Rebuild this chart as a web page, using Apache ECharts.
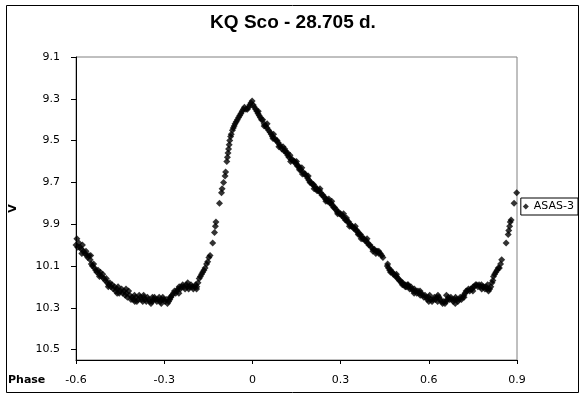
<!DOCTYPE html>
<html>
<head>
<meta charset="utf-8">
<script src="https://cdn.jsdelivr.net/npm/echarts@6/dist/echarts.min.js"></script>
<style>
html,body{margin:0;padding:0;background:#fff;}
#chart{width:586px;height:398px;}
</style>
</head>
<body>
<div id="chart"></div>
<script>
var titleText = "KQ Sco - 28.705 d.";
var seriesName = "ASAS-3";
var xTicks = [-0.6, -0.3, 0, 0.3, 0.6, 0.9];
var yTicks = [9.1, 9.3, 9.5, 9.7, 9.9, 10.1, 10.3, 10.5];

var phase = [
-0.602,-0.600,-0.597,-0.594,-0.590,-0.586,-0.582,-0.578,-0.574,-0.570,-0.566,-0.563,-0.560,-0.556,-0.552,-0.548,-0.544,-0.540,-0.537,-0.533,
-0.529,-0.525,-0.521,-0.517,-0.513,-0.509,-0.505,-0.501,-0.497,-0.493,-0.489,-0.485,-0.481,-0.477,-0.473,-0.469,-0.465,-0.461,-0.457,-0.453,
-0.449,-0.445,-0.441,-0.437,-0.433,-0.429,-0.425,-0.421,-0.417,-0.413,-0.409,-0.405,-0.401,-0.397,-0.393,-0.389,-0.385,-0.381,-0.377,-0.373,
-0.369,-0.365,-0.361,-0.357,-0.353,-0.349,-0.345,-0.341,-0.337,-0.333,-0.329,-0.325,-0.321,-0.317,-0.313,-0.309,-0.305,-0.301,-0.297,-0.293,
-0.289,-0.285,-0.281,-0.277,-0.273,-0.269,-0.265,-0.261,-0.257,-0.253,-0.249,-0.245,-0.241,-0.237,-0.233,-0.229,-0.225,-0.221,-0.217,-0.213,
-0.209,-0.205,-0.201,-0.197,-0.193,-0.189,-0.185,-0.181,-0.177,-0.173,-0.169,-0.165,-0.161,-0.156,-0.152,-0.148,-0.144,-0.135,-0.129,-0.126,
-0.124,-0.112,-0.105,-0.103,-0.098,-0.093,-0.091,-0.087,-0.085,-0.083,-0.081,-0.079,-0.077,-0.074,-0.072,-0.068,-0.065,
-0.062,-0.059,-0.055,-0.051,-0.047,-0.043,-0.039,-0.035,-0.031,-0.027,-0.022,-0.017,-0.013,-0.009,-0.005,-0.001,0.003,0.007,0.011,0.015,
0.019,0.023,0.027,0.031,0.035,0.040,0.045,0.050,0.055,0.060,0.064,0.068,0.072,0.076,0.080,0.084,0.088,0.092,0.096,0.100,
0.104,0.108,0.112,0.116,0.120,0.124,0.128,0.132,0.136,0.140,0.144,0.148,0.152,0.156,0.160,0.164,0.168,0.172,0.176,0.180,
0.184,0.188,0.192,0.196,0.200,0.204,0.208,0.212,0.216,0.220,0.224,0.228,0.232,0.236,0.240,0.244,0.248,0.252,0.256,0.260,
0.264,0.268,0.272,0.276,0.280,0.284,0.288,0.292,0.296,0.300,0.304,0.308,0.312,0.316,0.320,0.324,0.328,0.332,0.336,0.340,
0.344,0.348,0.352,0.356,0.360,0.364,0.368,0.372,0.376,0.380,0.384,0.388,0.392,0.396,0.400,0.405,0.410,0.415,0.420,0.425,
0.430,0.435,0.440,0.444,0.459,0.463,0.467,0.471,0.475,0.479,0.483,0.487,0.491,0.495,0.499,0.503,0.507,0.511,0.515,0.519,
0.523,0.527,0.531,0.535,0.539,0.543,0.547,0.551,0.555,0.559,0.563,0.567,0.571,0.575,0.579,0.583,0.587,0.591,0.595,0.599,
0.603,0.607,0.611,0.615,0.619,0.623,0.627,0.631,0.635,0.639,0.643,0.647,0.651,0.655,0.659,0.663,0.667,0.671,0.675,0.679,
0.683,0.687,0.691,0.695,0.699,0.703,0.707,0.711,0.715,0.719,0.723,0.727,0.731,0.735,0.739,0.743,0.747,0.751,0.755,0.759,
0.763,0.767,0.771,0.775,0.779,0.783,0.787,0.791,0.795,0.799,0.803,0.807,0.811,0.815,0.818,0.820,0.824,0.828,0.832,0.836,
0.840,0.844,0.848,0.863,0.870,0.872,0.875,0.877,0.880,0.890,0.899
];
var vmag = [
9.98,10.00,9.97,10.01,9.99,10.01,10.02,10.00,10.03,10.04,10.03,10.05,10.06,10.05,10.07,10.09,10.10,10.09,10.11,10.12,
10.13,10.12,10.14,10.13,10.15,10.14,10.16,10.17,10.16,10.18,10.19,10.18,10.20,10.19,10.21,10.20,10.22,10.21,10.20,10.23,
10.22,10.21,10.23,10.22,10.24,10.23,10.25,10.22,10.24,10.26,10.25,10.26,10.24,10.25,10.27,10.26,10.24,10.25,10.26,10.27,
10.25,10.26,10.27,10.25,10.26,10.27,10.28,10.27,10.26,10.25,10.26,10.27,10.26,10.25,10.27,10.26,10.25,10.26,10.27,10.26,
10.28,10.27,10.26,10.25,10.24,10.23,10.22,10.23,10.22,10.21,10.20,10.21,10.20,10.19,10.20,10.21,10.19,10.20,10.21,10.20,
10.19,10.20,10.21,10.20,10.19,10.20,10.18,10.16,10.15,10.14,10.13,10.12,10.11,10.09,10.08,10.06,10.05,9.99,9.94,9.91,
9.89,9.80,9.75,9.73,9.70,9.67,9.65,9.60,9.58,9.56,9.54,9.52,9.50,9.48,9.47,9.45,9.44,
9.43,9.42,9.41,9.40,9.39,9.38,9.37,9.36,9.35,9.34,9.35,9.35,9.34,9.33,9.32,9.31,9.33,9.34,9.35,9.36,
9.37,9.38,9.39,9.40,9.40,9.42,9.43,9.44,9.45,9.46,9.47,9.48,9.47,9.49,9.50,9.50,9.51,9.52,9.53,9.54,
9.53,9.55,9.55,9.56,9.57,9.58,9.57,9.59,9.59,9.60,9.60,9.61,9.62,9.62,9.63,9.64,9.63,9.65,9.66,9.66,
9.67,9.68,9.69,9.70,9.70,9.71,9.71,9.72,9.73,9.73,9.74,9.74,9.75,9.76,9.76,9.77,9.78,9.78,9.79,9.79,
9.80,9.80,9.81,9.82,9.82,9.83,9.84,9.84,9.85,9.85,9.86,9.86,9.87,9.88,9.88,9.89,9.89,9.90,9.91,9.91,
9.92,9.92,9.93,9.93,9.94,9.95,9.95,9.96,9.97,9.97,9.98,9.98,9.99,10.00,10.00,10.01,10.02,10.02,10.03,10.03,
10.04,10.04,10.05,10.06,10.10,10.11,10.12,10.12,10.13,10.14,10.14,10.15,10.15,10.16,10.17,10.17,10.18,10.18,10.19,10.19,
10.20,10.19,10.20,10.21,10.20,10.21,10.22,10.21,10.22,10.23,10.22,10.23,10.24,10.23,10.24,10.25,10.24,10.25,10.26,10.25,
10.24,10.26,10.27,10.26,10.25,10.26,10.25,10.24,10.25,10.26,10.27,10.28,10.27,10.28,10.27,10.26,10.25,10.26,10.25,10.26,
10.27,10.26,10.25,10.26,10.27,10.26,10.25,10.26,10.25,10.24,10.23,10.22,10.22,10.21,10.22,10.21,10.21,10.20,10.20,10.19,
10.19,10.20,10.19,10.20,10.19,10.20,10.20,10.21,10.20,10.21,10.22,10.21,10.20,10.18,10.17,10.15,10.14,10.13,10.12,10.11,
10.11,10.09,10.07,9.99,9.95,9.93,9.91,9.89,9.88,9.80,9.75
];

// second group of observations (scatter around the same light curve)
var phaseB = [
0.02,0.04,0.05,0.07,0.09,0.11,0.12,0.13,0.15,0.16,0.17,0.19,0.21,0.22,0.23,0.25,0.26,0.27,0.29,0.31,
0.32,0.33,0.35,0.36,0.37,0.39,0.41,0.42,0.43,0.46,0.47,0.49,0.51,0.52,0.53,0.55,0.57,
-0.58,-0.55,-0.52,-0.49,-0.46,-0.43,-0.40,-0.37,-0.34,-0.31,-0.28,-0.25,-0.22,-0.19,
0.60,0.63,0.66,0.69,0.72,0.75,0.78,0.80
];
var vmagB = [
9.36,9.43,9.42,9.49,9.53,9.54,9.56,9.60,9.60,9.64,9.66,9.67,9.73,9.74,9.73,9.79,9.78,9.79,9.85,9.85,
9.87,9.91,9.91,9.95,9.97,9.97,10.03,10.04,10.03,10.09,10.13,10.14,10.19,10.20,10.19,10.23,10.22,
10.04,10.05,10.15,10.20,10.23,10.21,10.27,10.24,10.25,10.28,10.25,10.23,10.18,10.21,
10.27,10.27,10.24,10.28,10.25,10.22,10.21,10.19
];

var points = phase.map(function (p, i) { return [p, vmag[i]]; })
  .concat(phaseB.map(function (p, i) { return [p, vmagB[i]]; }));

function fmtNum(v) {
  if (Math.abs(v) < 1e-9) return '0';
  return (Math.round(v * 10) / 10).toFixed(1);
}

var chart = echarts.init(document.getElementById('chart'), null, {renderer: 'canvas'});
var FONT = 'DejaVu Sans';
chart.setOption({
  animation: false,
  backgroundColor: '#ffffff',
  title: {
    text: titleText,
    left: 'center',
    top: 13,
    padding: 0,
    textStyle: {fontFamily: 'Liberation Sans', fontWeight: 'bold', fontSize: 19, color: '#000'}
  },
  legend: {
    right: 8,
    top: 198,
    orient: 'vertical',
    padding: [3, 4, 3, 2],
    itemWidth: 6,
    itemHeight: 6,
    borderColor: '#000',
    borderWidth: 1,
    backgroundColor: '#fff',
    textStyle: {fontFamily: FONT, fontSize: 11, color: '#000'},
    data: [{name: seriesName, icon: 'diamond'}]
  },
  grid: {
    left: 72, top: 57, right: 69, bottom: 38,
    show: true, borderColor: '#808080', borderWidth: 1, backgroundColor: '#fff'
  },
  xAxis: {
    type: 'value',
    min: xTicks[0],
    max: xTicks[xTicks.length - 1],
    interval: 0.3,
    axisLine: {show: true, onZero: false, lineStyle: {color: '#000', width: 1}},
    axisTick: {show: true, length: 4, lineStyle: {color: '#000'}},
    splitLine: {show: false},
    axisLabel: {
      margin: 15,
      fontFamily: FONT, fontSize: 11, color: '#000',
      formatter: fmtNum
    }
  },
  yAxis: {
    type: 'value',
    inverse: true,
    min: yTicks[0],
    max: 10.55,
    interval: 0.2,
    name: 'V',
    nameLocation: 'middle',
    nameRotate: 90,
    nameGap: 57,
    nameTextStyle: {fontFamily: FONT, fontWeight: 'bold', fontSize: 11, color: '#000'},
    axisLine: {show: true, onZero: false, lineStyle: {color: '#000', width: 1}},
    axisTick: {show: true, length: 5, lineStyle: {color: '#000'}},
    splitLine: {show: false},
    axisLabel: {
      margin: 16,
      showMaxLabel: false,
      fontFamily: FONT, fontSize: 11, color: '#000',
      formatter: fmtNum
    }
  },
  series: [{
    name: seriesName,
    type: 'scatter',
    symbol: 'diamond',
    symbolSize: 7,
    itemStyle: {color: '#000'},
    data: points
  }],
  graphic: [
    {
      type: 'rect',
      shape: {x: 6.5, y: 5.5, width: 572, height: 387},
      style: {fill: null, stroke: '#000', lineWidth: 1},
      silent: true, z: 100
    },
    {
      type: 'text',
      left: 8,
      top: 375,
      style: {text: 'Phase', fontFamily: FONT, fontWeight: 'bold', fontSize: 11, fill: '#000'}
    }
  ]
});
</script>
</body>
</html>
